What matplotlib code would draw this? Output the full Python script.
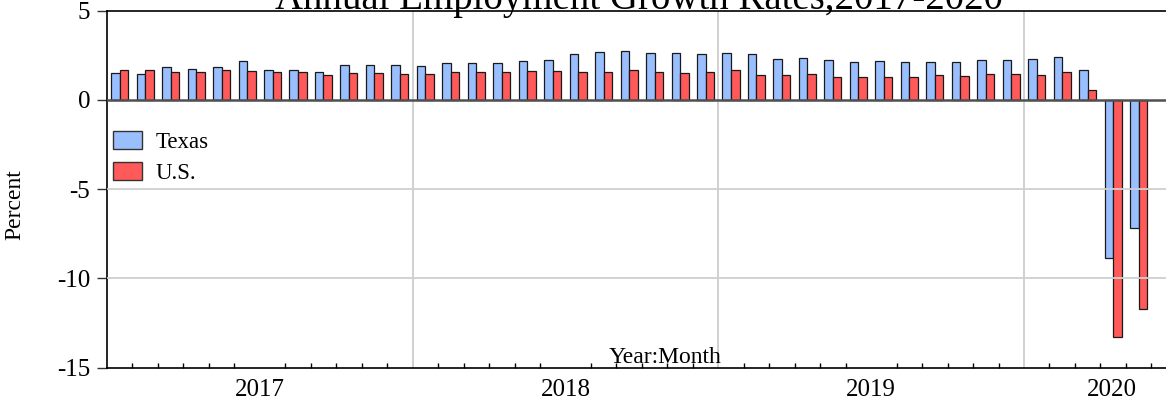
import matplotlib
matplotlib.use("Agg")
import matplotlib.pyplot as plt
import numpy as np
from matplotlib.patches import Patch

plt.rcParams['font.family'] = ['Liberation Serif', 'DejaVu Serif']

# Monthly year-over-year employment growth, Jan 2017 - May 2020
texas = [1.48, 1.46, 1.87, 1.76, 1.85, 2.17, 1.65, 1.69, 1.54, 1.94, 1.93, 1.93,
         1.89, 2.09, 2.06, 2.09, 2.20, 2.26, 2.59, 2.69, 2.76, 2.63, 2.65, 2.59,
         2.63, 2.56, 2.31, 2.37, 2.26, 2.11, 2.20, 2.11, 2.11, 2.15, 2.24, 2.26,
         2.28, 2.41, 1.67, -8.88, -7.18]
us = [1.70, 1.65, 1.59, 1.59, 1.67, 1.63, 1.54, 1.57, 1.41, 1.48, 1.52, 1.46,
      1.43, 1.56, 1.59, 1.54, 1.61, 1.61, 1.56, 1.59, 1.65, 1.59, 1.52, 1.57,
      1.65, 1.39, 1.37, 1.43, 1.30, 1.26, 1.30, 1.28, 1.37, 1.33, 1.44, 1.44,
      1.39, 1.56, 0.56, -13.31, -11.70]
years = ['2017', '2018', '2019', '2020']
series_names = ['Texas', 'U.S.']
title = 'Annual Employment Growth Rates,2017-2020'

W, H = 1166, 404
fig = plt.figure(figsize=(W / 100, H / 100), dpi=100)
left_px, right_px, top_px, bot_px = 107, 1200, 10.7, 367.5
ax = fig.add_axes([left_px / W, 1 - bot_px / H, (right_px - left_px) / W, (bot_px - top_px) / H])

n = len(texas)
x = np.arange(n)
bw = 0.335
c_tx = '#99BFFF'
c_us = '#FF5959'
ax.bar(x + 0.33, texas, width=bw, color=c_tx, edgecolor='#1a1a1a', linewidth=0.9, zorder=2)
ax.bar(x + 0.665, us, width=bw, color=c_us, edgecolor='#1a1a1a', linewidth=0.9, zorder=2)

xmax = (right_px - left_px) / ((1024 - 107) / 36)
ax.set_xlim(0, xmax)
ax.set_ylim(-15, 5)

# grid
for yv in [-5, -10]:
    ax.axhline(yv, color='#cfcfcf', linewidth=1.3, zorder=3)
for xv in [12, 24, 36]:
    ax.axvline(xv, color='#c8c8c8', linewidth=1.2, zorder=1)
ax.axhline(0, color='#505050', linewidth=1.8, zorder=4)

# spines
ax.spines['right'].set_visible(False)
for s in ['left', 'top', 'bottom']:
    ax.spines[s].set_color('black')
    ax.spines[s].set_linewidth(1.2)

# y ticks
ax.set_yticks([5, 0, -5, -10, -15])
ax.set_yticklabels(['5', '0', '-5', '-10', '-15'])
ax.tick_params(axis='y', direction='out', length=7.2, width=1.0, pad=5, labelsize=18, color='#333333')

# x ticks: year labels at mid-year, month ticks as minor
year_pos = [6, 18, 30, 39.46]
ax.set_xticks(year_pos)
ax.set_xticklabels(years)
ax.tick_params(axis='x', which='major', length=0, pad=8, labelsize=18)
ax.set_xticks([m for m in range(1, 43) if m % 12 != 0], minor=True)
ax.tick_params(axis='x', which='minor', direction='in', length=3.6, width=1.0, color='black')

# texts
fig.text(639 / W, 1 - 8.5 / H, title, ha='center', va='baseline', fontsize=28)
fig.text(15 / W, 1 - 205 / H, 'Percent', rotation=90, ha='center', va='center', fontsize=17)
fig.text(665 / W, 1 - 363 / H, 'Year:Month', ha='center', va='baseline', fontsize=17)

handles = [Patch(facecolor=c_tx, edgecolor='#333333', linewidth=1.0),
           Patch(facecolor=c_us, edgecolor='#333333', linewidth=1.0)]
fig.legend(handles, series_names, loc='upper left',
           bbox_to_anchor=(113 / W, 1 - 131 / H), frameon=False, fontsize=16.5,
           handlelength=1.25, handleheight=0.8, handletextpad=0.6, labelspacing=0.42,
           borderpad=0, borderaxespad=0)

fig.savefig('out.png', dpi=100)
